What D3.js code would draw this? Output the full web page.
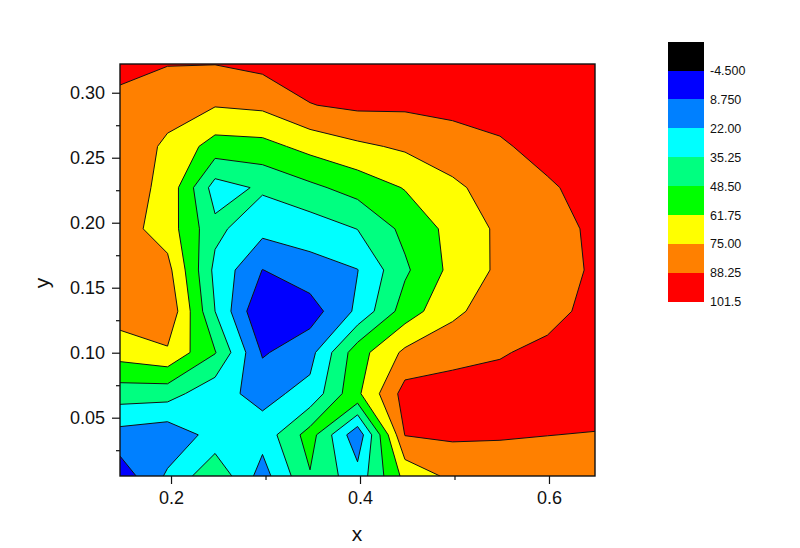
<!DOCTYPE html>
<html>
<head>
<meta charset="utf-8">
<script src="https://cdnjs.cloudflare.com/ajax/libs/d3/7.8.5/d3.min.js"></script>
<style>
  html, body { margin: 0; padding: 0; background: #fff; }
  svg { display: block; }
  text { font-family: "Liberation Sans", Arial, sans-serif; fill: #111; }
</style>
</head>
<body>
<div id="vis-container"></div>
<script>
const xGrid = [0.146, 0.1963, 0.2466, 0.2968, 0.3471, 0.3974, 0.4476, 0.4979, 0.5481, 0.5984, 0.6487];
const yGrid = [0.00515, 0.0368, 0.0685, 0.1002, 0.1319, 0.1636, 0.1953, 0.2270, 0.2587, 0.2904, 0.3221];

// z values, one row per y in yGrid
const row0 = [0.9, 24, 45.5, 16.5, 47.5, 27, 65.8, 78.3, 82, 84, 85];
const row1 = [17.1, 13.2, 26.8, 27, 54.2, 12.5, 88.7, 90.3, 89.2, 88.35, 87.9];
const row2 = [41.6, 40.8, 26, 18.4, 25.9, 59.3, 93.5, 96, 96, 95, 92];
const row3 = [67.5, 73, 49.3, 7.2, 17.5, 56.2, 77.7, 82.4, 86.7, 93, 96];
const row4 = [81.4, 86, 35.25, -4.4, 2.4, 24.7, 54.8, 72.5, 81.3, 81.7, 94.5];
const row5 = [82, 79.3, 31.9, 8.5, 17.2, 21.7, 46.3, 65.6, 77.5, 81, 90.4];
const row6 = [81, 68.7, 38.6, 26, 28, 35.5, 52, 65.9, 77.5, 81, 91.6];
const row7 = [81.7, 71.4, 29.4, 37.3, 45.6, 53.7, 62.5, 72.5, 80.8, 87, 91.8];
const row8 = [84.8, 72.4, 56.3, 57.4, 66, 72.6, 77, 82, 87, 91.5, 96];
const row9 = [86, 80.5, 75.8, 77.8, 87.8, 90.8, 90.4, 92, 92, 97, 97];
const row10 = [90.6, 88.7, 88.5, 91.7, 95, 96, 96, 97, 98, 99, 98];

const levels = [-4.5, 8.75, 22, 35.25, 48.5, 61.75, 75, 88.25, 101.5];
const levelLabels = ["-4.500", "8.750", "22.00", "35.25", "48.50", "61.75", "75.00", "88.25", "101.5"];
const bandColors = ["#000000", "#0000ff", "#0080ff", "#00ffff", "#00ff80", "#00ff00", "#ffff00", "#ff8000", "#ff0000"];

const xMajor = [0.2, 0.4, 0.6];
const xMinor = [0.3, 0.5];
const yMajor = [0.05, 0.10, 0.15, 0.20, 0.25, 0.30];
const yMinor = [0.025, 0.075, 0.125, 0.175, 0.225, 0.275];

const width = 800;
const height = 548;
const plot = { left: 120, right: 595, top: 64, bottom: 476 };

const svg = d3.select("#vis-container")
  .append("svg")
  .attr("width", width)
  .attr("height", height);

const x = d3.scaleLinear()
  .domain([xGrid[0], xGrid[xGrid.length - 1]])
  .range([plot.left, plot.right]);

const y = d3.scaleLinear()
  .domain([yGrid[0], yGrid[yGrid.length - 1]])
  .range([plot.bottom, plot.top]);

// grid index -> data value -> pixel (d3.contours puts samples at i + 0.5)
const gridX = d3.scaleLinear().domain(d3.range(xGrid.length)).range(xGrid);
const gridY = d3.scaleLinear().domain(d3.range(yGrid.length)).range(yGrid);

// d3.contours joins the low corners at a saddle, the reference joins the high ones,
// so contour -z and paint "z <= level" from the top level down
const values = [row0, row1, row2, row3, row4, row5, row6, row7, row8, row9, row10].flat().map((d) => -d);

const contours = d3.contours()
  .size([xGrid.length, yGrid.length])
  .thresholds(levels.map((d) => -d))(values);

const path = d3.geoPath(d3.geoTransform({
  point: function (px, py) {
    this.stream.point(x(gridX(px - 0.5)), y(gridY(py - 0.5)));
  }
}));

svg.append("clipPath")
  .attr("id", "plot-clip")
  .append("rect")
  .attr("x", plot.left)
  .attr("y", plot.top)
  .attr("width", plot.right - plot.left)
  .attr("height", plot.bottom - plot.top);

// Filled contours
svg.append("g")
  .attr("clip-path", "url(#plot-clip)")
  .selectAll("path")
  .data(contours)
  .enter()
  .append("path")
    .attr("d", path)
    .attr("fill", (d) => bandColors[levels.indexOf(-d.value)])
    .attr("stroke", "#111")
    .attr("stroke-width", 1)
    .attr("stroke-linejoin", "round");

// Frame
svg.append("rect")
  .attr("x", plot.left)
  .attr("y", plot.top)
  .attr("width", plot.right - plot.left)
  .attr("height", plot.bottom - plot.top)
  .attr("fill", "none")
  .attr("stroke", "#111")
  .attr("stroke-width", 1.4);

// x axis
const xAxisG = svg.append("g")
  .attr("transform", `translate(0,${plot.bottom})`);
xAxisG.append("g")
  .call(d3.axisBottom(x).tickValues(xMajor).tickFormat(d3.format(".1f")).tickSize(8).tickPadding(7))
  .attr("font-size", 18)
  .attr("font-family", null);
xAxisG.append("g")
  .call(d3.axisBottom(x).tickValues(xMinor).tickFormat("").tickSize(4));

// y axis
const yAxisG = svg.append("g")
  .attr("transform", `translate(${plot.left},0)`);
yAxisG.append("g")
  .call(d3.axisLeft(y).tickValues(yMajor).tickFormat(d3.format(".2f")).tickSize(8).tickPadding(7))
  .attr("font-size", 18)
  .attr("font-family", null);
yAxisG.append("g")
  .call(d3.axisLeft(y).tickValues(yMinor).tickFormat("").tickSize(4));

svg.selectAll(".domain").remove();
svg.selectAll(".tick line").attr("stroke", "#111").attr("stroke-width", 1.2);

// Axis titles
svg.append("text")
  .attr("x", 357)
  .attr("y", 541)
  .attr("text-anchor", "middle")
  .attr("font-size", 21)
  .text("x");

svg.append("text")
  .attr("transform", "translate(49,283) rotate(-90)")
  .attr("text-anchor", "middle")
  .attr("font-size", 21)
  .text("y");

// Colour scale legend
const legendY = d3.scaleLinear()
  .domain([0, bandColors.length])
  .range([41.7, 301.7]);

svg.append("g")
  .attr("shape-rendering", "crispEdges")
  .selectAll("rect")
  .data(bandColors)
  .enter()
  .append("rect")
    .attr("x", 668)
    .attr("y", (d, i) => legendY(i))
    .attr("width", 36)
    .attr("height", (d, i) => legendY(i + 1) - legendY(i))
    .attr("fill", (d) => d);

svg.append("g")
  .selectAll("text")
  .data(levelLabels)
  .enter()
  .append("text")
    .attr("x", 710)
    .attr("y", (d, i) => legendY(i + 1))
    .attr("dy", "0.36em")
    .attr("font-size", 12.5)
    .text((d) => d);
</script>
</body>
</html>
